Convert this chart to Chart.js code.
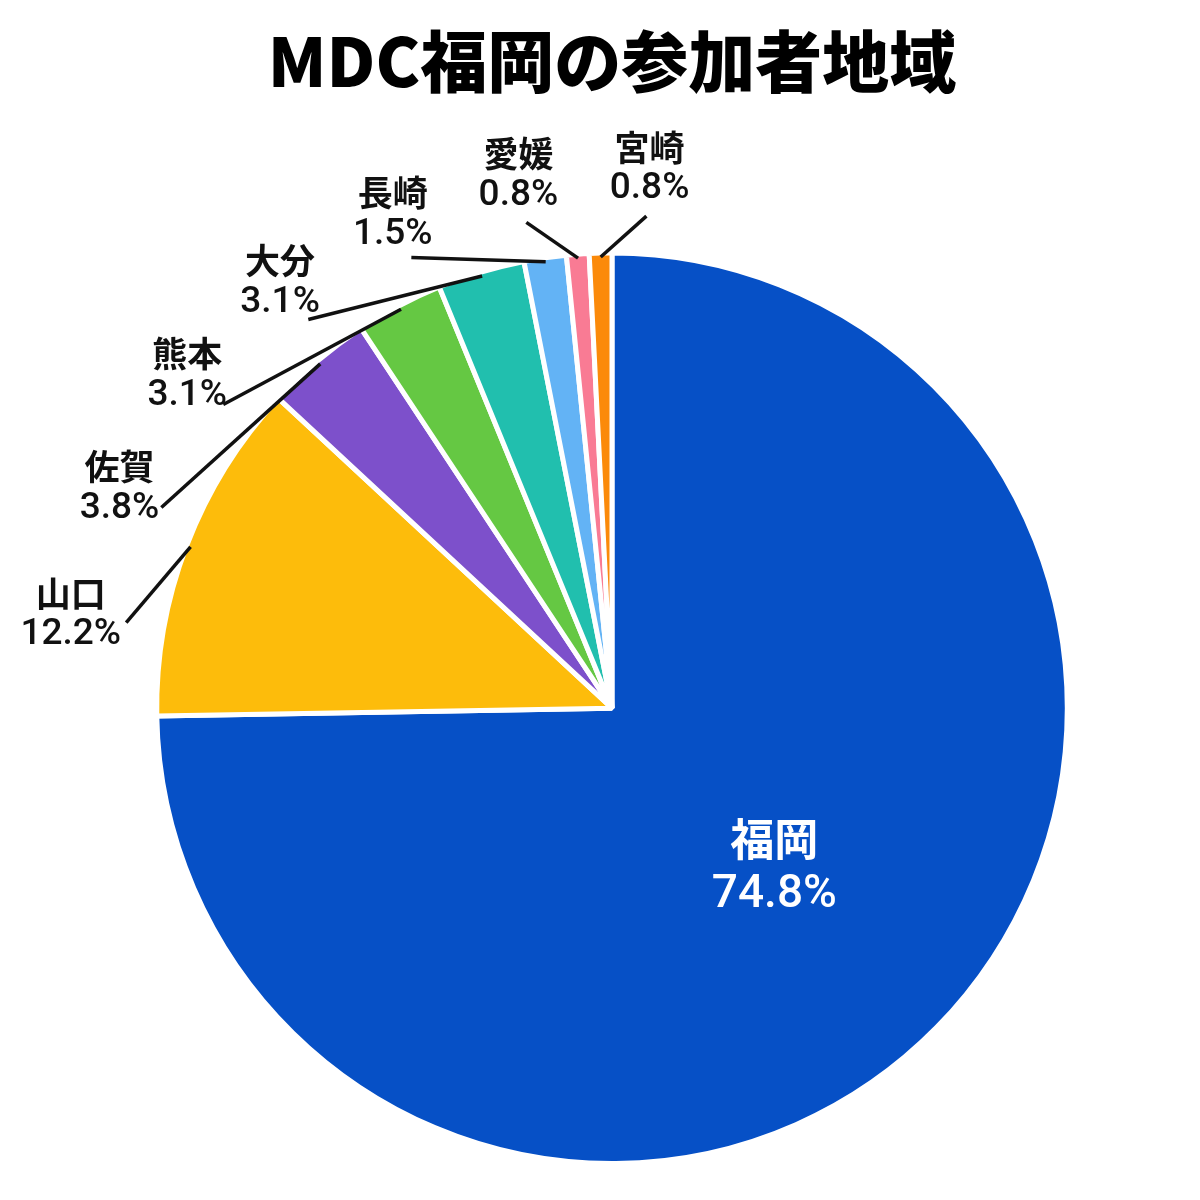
<!DOCTYPE html>
<html lang="ja">
<head>
<meta charset="utf-8">
<title>MDC福岡の参加者地域</title>
<script src="https://cdn.jsdelivr.net/npm/chart.js@4.4.1/dist/chart.umd.min.js"></script>
<style>
  html, body { margin: 0; padding: 0; background: #fff; }
  #wrap { width: 1200px; height: 1200px; }
</style>
</head>
<body>
<div id="wrap"><canvas id="myChart"></canvas></div>
<script>
const regions = ['福岡', '山口', '佐賀', '熊本', '大分', '長崎', '愛媛', '宮崎'];
const shares = [74.8, 12.2, 3.8, 3.1, 3.1, 1.5, 0.8, 0.8];
const sliceColors = ['#0650c6', '#fdbc0b', '#7d50cb', '#65c843', '#21bfae', '#63b3f5', '#f97b94', '#fb8a0a'];

const FONT = '"Noto Sans CJK JP", "Noto Sans", sans-serif';
const NUM_FONT = 'Roboto, "Noto Sans", sans-serif';

// labels: first slice inside, the rest outside with leader lines
const pieLabels = {
  id: 'pieLabels',
  afterDatasetsDraw(chart) {
    const ctx = chart.ctx;
    const arcs = chart.getDatasetMeta(0).data;
    const deg = Math.PI / 180;

    // inside label for the big slice
    const big = arcs[0].tooltipPosition();
    ctx.save();
    ctx.fillStyle = '#fff';
    ctx.textAlign = 'center';
    ctx.textBaseline = 'middle';
    ctx.font = 'bold 44px ' + FONT;
    ctx.fillText(regions[0], big.x, big.y - 28);
    ctx.font = '500 46px ' + NUM_FONT;
    ctx.fillText(shares[0].toFixed(1) + '%', big.x, big.y + 28);
    ctx.restore();

    // mid angles in degrees, clockwise from the top
    const mids = arcs.map(a => ((a.startAngle + a.endAngle) / 2) / deg + 90);
    const gap = 14, cap = 364;
    const ang = mids.slice();
    for (let i = 2; i < arcs.length; i++) ang[i] = Math.max(mids[i], ang[i - 1] + gap);
    ang[arcs.length - 1] = Math.min(ang[arcs.length - 1], cap);
    for (let i = arcs.length - 2; i >= 1; i--) ang[i] = Math.min(ang[i], ang[i + 1] - gap);

    ctx.save();
    for (let i = 1; i < arcs.length; i++) {
      const arc = arcs[i];
      const cx = arc.x, cy = arc.y, r = arc.outerRadius;
      const m = mids[i] * deg, a = ang[i] * deg;
      const x0 = cx + (r - 4) * Math.sin(m), y0 = cy - (r - 4) * Math.cos(m);
      const ux = Math.sin(a), uy = -Math.cos(a);
      const x1 = cx + (r + 38) * ux, y1 = cy + (r + 38) * uy;

      ctx.strokeStyle = '#111';
      ctx.lineWidth = 3.5;
      ctx.beginPath();
      ctx.moveTo(x0, y0);
      ctx.lineTo(x1, y1);
      ctx.stroke();

      const name = regions[i];
      const pct = shares[i].toFixed(1) + '%';
      ctx.font = 'bold 35px ' + FONT;
      const w1 = ctx.measureText(name).width;
      ctx.font = '500 37px ' + NUM_FONT;
      const w2 = ctx.measureText(pct).width;
      const w = Math.max(w1, w2), h = 84;
      const tx = x1 + ux * (w / 2 + 6);
      const ty = y1 + uy * (h / 2 + 6);

      ctx.fillStyle = '#111';
      ctx.textAlign = 'center';
      ctx.textBaseline = 'middle';
      ctx.font = 'bold 35px ' + FONT;
      ctx.fillText(name, tx, ty - 21);
      ctx.font = '500 37px ' + NUM_FONT;
      ctx.fillText(pct, tx, ty + 21);
    }
    ctx.restore();
  }
};

const ctx = document.getElementById('myChart');

new Chart(ctx, {
  type: 'pie',
  data: {
    labels: regions,
    datasets: [{
      data: shares,
      backgroundColor: sliceColors,
      borderColor: '#fff',
      borderWidth: 5
    }]
  },
  options: {
    responsive: true,
    maintainAspectRatio: false,
    animation: false,
    layout: {
      padding: { left: 154, right: 130, top: 0, bottom: 34 }
    },
    plugins: {
      legend: { display: false },
      tooltip: { enabled: false },
      title: {
        display: true,
        text: 'MDC福岡の参加者地域',
        color: '#000',
        font: { family: FONT, size: 67, weight: '900' },
        padding: { top: 21, bottom: 149 }
      }
    }
  },
  plugins: [pieLabels]
});
</script>
</body>
</html>
